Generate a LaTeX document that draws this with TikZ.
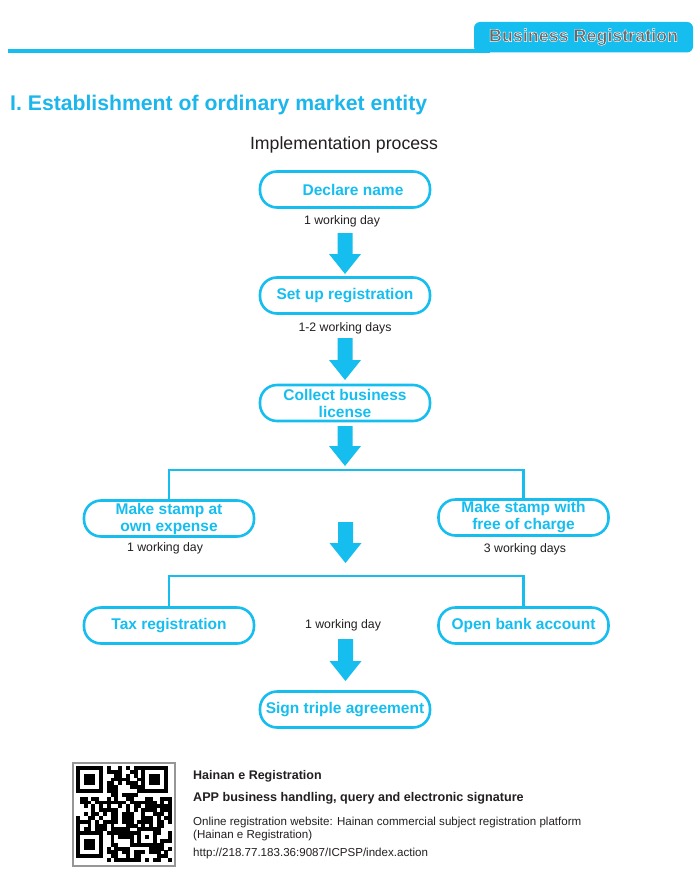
\documentclass[tikz,border=0pt]{standalone}
\usepackage{fontspec}
\setmainfont{Liberation Sans}
\usetikzlibrary{calc}
\definecolor{cyanc}{RGB}{22,190,240}
\definecolor{titlec}{RGB}{28,182,236}
\definecolor{tabtext}{RGB}{105,105,105}
\definecolor{ink}{RGB}{35,31,32}
\definecolor{qrgray}{RGB}{150,150,150}
\newcommand\blockarrow[3]{%
  \fill[cyanc] (#1-7.5,#2) -- (#1+7.5,#2) -- (#1+7.5,#3-20) -- (#1+16,#3-20)
    -- (#1,#3) -- (#1-16,#3-20) -- (#1-7.5,#3-20) -- cycle;}
\newcommand\qrfinder[2]{%
  \fill[black] (#1,#2) rectangle ++(26.88,26.88);
  \fill[white] (#1+3.84,#2+3.84) rectangle ++(19.2,19.2);
  \fill[black] (#1+7.68,#2+7.68) rectangle ++(11.52,11.52);}
\newcommand\outlinedtext[1]{\special{pdf:literal direct 2 Tr 1 1 1 RG 0.45 w}#1\special{pdf:literal direct 0 Tr}}
\begin{document}
\begin{tikzpicture}[x=1pt,y=-1pt,
  stepbox/.style={draw=cyanc, line width=2.6pt, fill=white, rounded corners=17pt,
    minimum width=170pt, minimum height=36pt, inner sep=0pt, align=center,
    text=cyanc, font=\bfseries\fontsize{15.5}{17}\selectfont},
  daylabel/.style={text=ink, inner sep=0pt, font=\fontsize{12.3}{14}\selectfont},
  conn/.style={draw=cyanc, line width=2.6pt},
  foottext/.style={anchor=base west, inner sep=0pt, text=ink}]
\useasboundingbox (0,0) rectangle (700,888);
\fill[white] (0,0) rectangle (700,888);

% header
\fill[cyanc, rounded corners=6pt] (474,22) rectangle (693,52.5);
\fill[cyanc] (8,49.3) rectangle (490,52.7);
\node[text=tabtext, inner sep=0pt, font=\bfseries\fontsize{17.9}{20}\selectfont] (tab) at (583.5,37) {\outlinedtext{Business Registration}};

% titles
\node[anchor=base west, inner sep=0pt, text=titlec, font=\bfseries\fontsize{21.2}{24}\selectfont] (title) at (10,110.7) {I. Establishment of ordinary market entity};
\node[anchor=base, inner sep=0pt, text=ink, font=\fontsize{17.7}{20}\selectfont] (sub) at (344,149.3) {Implementation process};

% boxes
\node[stepbox] (declare) at (345,189.5) {\hspace*{16pt}Declare name};
\node[stepbox] (setup) at (345,295.5) {Set up registration};
\node[stepbox] (collect) at (345,403) {Collect business\\license};
\node[stepbox] (stampL) at (169,518.5) {Make stamp at\\own expense};
\node[stepbox] (stampR) at (523.5,517.5) {Make stamp with\\free of charge};
\node[stepbox] (tax) at (169,625.5) {Tax registration};
\node[stepbox] (bank) at (523.5,625.5) {Open bank account};
\node[stepbox] (sign) at (345,709.5) {Sign triple agreement};

% labels
\node[daylabel] (l1) at (342,221) {1 working day};
\node[daylabel] (l2) at (345,328.5) {1-2 working days};
\node[daylabel] (l3) at (165,548) {1 working day};
\node[daylabel] (l4) at (525,549) {3 working days};
\node[daylabel] (l5) at (343,625) {1 working day};

% block arrows
\blockarrow{345}{233}{274}
\blockarrow{345}{338}{380}
\blockarrow{345}{426}{466}
\blockarrow{345.5}{522}{563}
\blockarrow{345.5}{639}{681}

% branch connectors
\coordinate (b1) at (345,470);
\coordinate (b2) at (345,576);
\draw[conn] (stampL.north) |- (b1) -| (stampR.north);
\draw[conn] (tax.north) |- (b2) -| (bank.north);

% QR code
\draw[qrgray, line width=1.3pt] (73,763) rectangle (175,866);
\pgfmathsetseed{31415}
\foreach \i in {0,...,24}{
  \foreach \j in {0,...,24}{
    \pgfmathrandominteger{\qv}{0}{99}
    \pgfmathtruncatemacro\qs{(\i<8)*(\j<8)+(\i>16)*(\j<8)+(\i<8)*(\j>16)}
    \ifnum\qs=0
      \ifnum\qv<58
        \fill[black] (76+\i*3.84,766+\j*3.84) rectangle ++(3.9,3.9);
      \fi
    \fi
  }
}
\qrfinder{76}{766}
\qrfinder{141.28}{766}
\qrfinder{76}{831.28}
\fill[black] (76+16*3.84,766+16*3.84) rectangle ++(19.2,19.2);
\fill[white] (76+17*3.84,766+17*3.84) rectangle ++(11.52,11.52);
\fill[black] (76+18*3.84,766+18*3.84) rectangle ++(3.84,3.84);

% footer text
\node[foottext, font=\bfseries\fontsize{12.5}{14}\selectfont] (f1) at (193,779.5) {Hainan e Registration};
\node[foottext, font=\bfseries\fontsize{12.6}{14}\selectfont] (f2) at (193,801.5) {APP business handling, query and electronic signature};
\node[foottext, font=\fontsize{11.57}{13}\selectfont] (f3) at (193,825.5) {Online registration website: Hainan commercial subject registration platform};
\node[foottext, font=\fontsize{11.57}{13}\selectfont] (f4) at (193,838) {(Hainan e Registration)};
\node[foottext, font=\fontsize{11.57}{13}\selectfont] (f5) at (193,856) {http://218.77.183.36:9087/ICPSP/index.action};
\end{tikzpicture}
\end{document}
